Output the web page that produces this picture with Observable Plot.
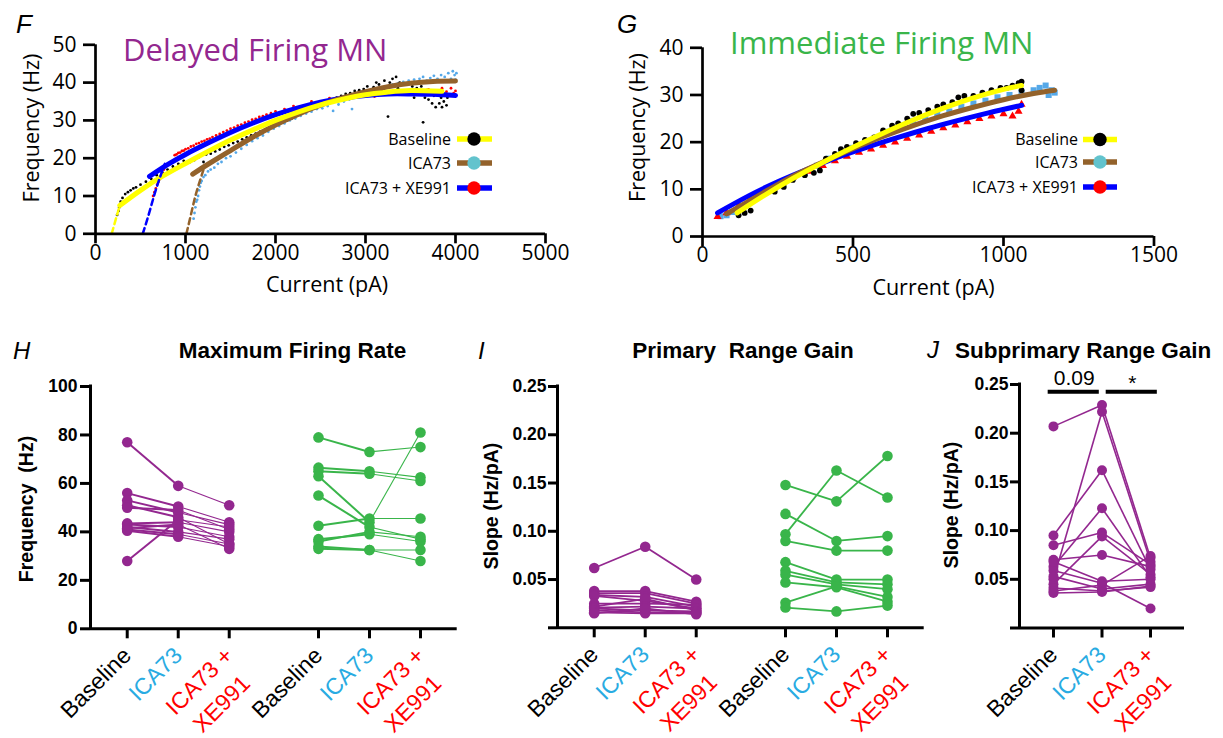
<!DOCTYPE html>
<html><head><meta charset="utf-8">
<script src="https://cdn.jsdelivr.net/npm/d3@7"></script>
<script src="https://cdn.jsdelivr.net/npm/@observablehq/plot@0.6"></script>
<style>
html,body{margin:0;padding:0;background:#fff;}
#fig{position:relative;width:1223px;height:738px;overflow:hidden;background:#fff;}
#fig svg{position:absolute;max-width:none;overflow:visible;}
</style></head><body><div id="fig"></div>
<script>
// ---------------- DATA ----------------
const conditions = ["Baseline", "ICA73", "ICA73 + XE991"];
const labelLine1 = ["Baseline", "ICA73", "ICA73 +"];
const labelLine2 = ["", "", "XE991"];
const conditionColors = ["#000000", "#29ABE2", "#FF0000"];
const groupNames = ["Delayed Firing MN", "Immediate Firing MN"];
const groupColors = ["#93278F", "#39B54A"];
const fitColors = ["#FFFF00", "#93622B", "#0000FF"];
const pointColors = ["#000000", "#55A8E8", "#FF0000"];
const legendDotColors = ["#000000", "#62C3CD", "#FF0000"];

// Panel F (Delayed firing MN) – [current pA, frequency Hz]
const fBaselinePts = [[240,5],[255,6],[265,7],[280,8.5],[300,9.5],[330,10.5],[360,11],[390,11.5],[420,12],[450,12.3],[500,13],[560,13.8],[620,14.5],[680,15.5],[740,16.3],[800,17],[860,17.8],[920,18.5],[980,19.3],[1050,19],[1100,19.5],[1150,20.3],[1200,19],[1230,21],[1280,21.2],[1330,21.8],[1380,22.3],[1430,23],[1480,23.4],[1530,24],[1580,24.4],[1630,25],[1680,25.5],[1730,26],[1780,26.5],[1830,27],[1880,27.3],[1930,28],[1980,28.5],[2030,29],[2080,29.5],[2130,30],[2180,30.5],[2230,31.2],[2280,31.8],[2330,32.3],[2380,33],[2430,33.5],[2480,34],[2530,34.5],[2580,35],[2630,35.5],[2680,36],[2730,36.5],[2780,37],[2830,37.2],[2880,37.8],[2930,38],[2980,38.3],[3020,39],[3060,37],[3090,38.8],[3120,40],[3150,39.5],[3180,38],[3210,40.5],[3240,39],[3250,31],[3270,40],[3300,41],[3320,39],[3340,41.5],[3360,38.5],[3380,40],[3410,39.5],[3430,37],[3460,39.8],[3490,38],[3520,39],[3540,36],[3570,38.5],[3600,37],[3620,39],[3640,29.5],[3660,36],[3680,38],[3700,35.5],[3720,37],[3740,34.5],[3760,36.5],[3780,33.5],[3800,37.5],[3820,34.5],[3840,36],[3850,33.5],[3870,35],[3880,37],[3900,34],[3910,36]];
const fIcaPts = [[1090,4],[1100,5.5],[1110,7],[1120,8.5],[1130,9],[1140,10],[1150,11.5],[1160,12.5],[1170,13.5],[1180,14],[1200,15],[1220,15.5],[1250,16.5],[1280,17],[1320,17.5],[1360,18.5],[1400,19],[1450,20],[1500,20.5],[1560,21.5],[1620,22.5],[1680,23.5],[1740,24.5],[1800,25.3],[1860,26],[1920,27],[1980,27.8],[2040,28.5],[2100,29.2],[2160,30],[2220,30.5],[2280,31.2],[2340,31.8],[2400,32.3],[2460,33],[2520,33.2],[2580,33.8],[2640,32.5],[2700,34.2],[2760,35],[2820,35.5],[2850,33],[2880,36],[2940,36.5],[3000,37.2],[3060,37.8],[3120,38.2],[3180,38.7],[3240,39],[3300,39.5],[3360,39.8],[3420,40.2],[3480,40.5],[3540,40.8],[3600,41],[3640,41.5],[3680,40.5],[3720,41.2],[3760,41.8],[3800,41],[3840,42],[3880,41.5],[3920,42.5],[3950,41],[3970,43],[3990,42],[4000,40.8],[4010,42.5]];
const fXePts = [[640,10],[655,11],[670,12],[685,13],[700,13.8],[715,14.5],[730,15.3],[745,16],[760,17],[880,20.8],[900,21],[920,21.4],[940,21.5],[960,21.9],[980,22],[1000,22.4],[1030,22.6],[1060,23.1],[1090,23.3],[1120,23.8],[1150,24],[1180,24.4],[1210,24.6],[1240,25],[1270,25.2],[1300,25.6],[1340,26],[1380,26.4],[1420,26.9],[1460,27.3],[1500,27.8],[1540,28.1],[1580,28.6],[1620,28.9],[1660,29.4],[1700,29.7],[1740,30.2],[1780,30.4],[1820,30.9],[1860,31.1],[1900,31.5],[1950,31.9],[2000,32.4],[2100,33],[2200,33.8],[2400,35],[2600,35.9],[2800,36.6],[3000,37],[3100,36.3],[3200,37.5],[3400,37.8],[3600,37.6],[3700,38.2],[3800,37.8],[3850,38.5],[3900,37.6],[3950,38.5],[3980,37.2],[4000,37.8]];
const fBaselineFit = [[270,7.5],[500,11.5],[750,15.3],[1000,18.6],[1250,21.8],[1500,24.8],[1750,27.5],[2000,30],[2250,32.2],[2500,34.1],[2750,35.6],[3000,36.8],[3250,37.5],[3500,37.9],[3850,37.7]];
const fBaselineSub = [[180,0],[225,3.8],[270,7.5]];
const fIcaFit = [[1080,15.8],[1250,18.4],[1500,22],[1750,25.6],[2000,28.8],[2250,31.6],[2500,34],[2750,36],[3000,37.6],[3250,38.9],[3500,39.8],[3750,40.3],[4000,40.4]];
const fIcaSub = [[1010,0],[1060,5],[1110,10],[1160,14],[1200,17]];
const fXeFit = [[600,15.2],[800,18.3],[1000,21],[1250,24],[1500,26.8],[1750,29.3],[2000,31.5],[2250,33.3],[2500,34.8],[2750,35.9],[3000,36.6],[3250,37],[3500,37],[3750,36.9],[4000,36.6]];
const fXeSub = [[525,0],[590,5],[650,10],[710,14.5],[770,18.5]];
const fXTicks = [0, 1000, 2000, 3000, 4000, 5000];
const fYTicks = [0, 10, 20, 30, 40, 50];

// Panel G (Immediate firing MN)
const gBaselinePts = [[120,4.5],[140,5],[160,5.5],[240,9.5],[270,10.5],[300,12],[340,13],[370,13.5],[390,14],[410,16.5],[440,17.5],[460,18.5],[480,19],[510,19.8],[540,20.5],[570,21],[600,22.5],[630,23.5],[650,24],[680,25],[700,26],[720,26.2],[750,26.8],[780,27.5],[800,28],[830,28.5],[850,29.5],[870,29.8],[900,29.8],[930,30.5],[960,31],[990,31.5],[1010,31.5],[1030,32],[1050,32.5],[1060,32.8],[1060,31]];
const gIcaPts = [[60,4.3],[80,4.5],[100,5.2],[130,6.5],[160,7.5],[190,9],[210,9.8],[240,10.5],[270,11.5],[300,12.5],[340,13.5],[380,15],[420,16.5],[460,17.8],[500,18.8],[540,20],[580,21],[620,22.2],[660,23.5],[700,24.5],[740,25],[780,25.8],[820,26.5],[860,27.5],[900,28.2],[940,28.8],[980,29.5],[1020,30],[1060,30.5],[1100,31],[1120,31.5],[1140,32],[1150,30],[1160,31],[1170,30.5]];
const gXePts = [[50,4.2],[80,5],[120,6.5],[160,8],[200,9.3],[250,11],[300,12.5],[350,13.8],[400,15],[440,16],[480,17],[520,17.8],[560,18.5],[600,19.3],[640,20],[680,20.8],[720,21.5],[760,22.3],[800,23],[840,23.6],[880,24.3],[920,25],[960,25.5],[1000,26],[1030,25.5],[1050,26.5],[1060,28]];
const gBaselineFit = [[115,5],[200,8.5],[300,12.3],[400,15.7],[500,18.9],[600,21.9],[700,24.7],[800,27.2],[900,29.4],[1000,31.2],[1060,32]];
const gIcaFit = [[80,4.8],[200,9.2],[300,12.8],[400,15.8],[500,18.6],[600,21.2],[700,23.5],[800,25.6],[900,27.4],[1000,29],[1100,30.3],[1170,31]];
const gXeFit = [[50,5],[150,8.5],[250,11.6],[350,14.3],[450,16.8],[550,19],[650,21],[750,22.9],[850,24.6],[950,26.2],[1060,27.8]];
const gXTicks = [0, 500, 1000, 1500];
const gYTicks = [0, 10, 20, 30, 40];

// Panel H – maximum firing rate (Hz), rows = cells, columns = conditions
const hDelayed = [[77,59,51],[56,50.5,44],[53,48,43],[51,46,35],[50,49,41],[43.5,44,40],[43,42,38],[42,40,37],[41.5,43,33],[41,39,35],[40.5,38,34],[28,45,42]];
const hImmediate = [[79,73,75],[66.5,65,62.5],[65,64,61],[63,44,81],[55,42,37],[42.5,45.5,45.5],[37,39,36],[36,40,38],[34,32.5,32.5],[33,32.5,28]];
const hYTicks = [0, 20, 40, 60, 80, 100];

// Panel I – primary range gain (Hz/pA)
const iDelayed = [[0.062,0.084,0.050],[0.038,0.038,0.027],[0.036,0.036,0.025],[0.034,0.032,0.022],[0.033,0.028,0.020],[0.025,0.025,0.024],[0.022,0.030,0.018],[0.021,0.022,0.020],[0.020,0.018,0.017],[0.018,0.016,0.016],[0.016,0.015,0.015],[0.015,0.020,0.014]];
const iImmediate = [[0.148,0.131,0.178],[0.097,0.163,0.135],[0.118,0.090,0.095],[0.090,0.080,0.080],[0.068,0.050,0.050],[0.059,0.047,0.045],[0.055,0.045,0.040],[0.047,0.042,0.027],[0.026,0.043,0.032],[0.021,0.017,0.023]];
const slopeTicks = [0, 0.05, 0.10, 0.15, 0.20, 0.25];

// Panel J – subprimary range gain (Hz/pA), delayed firing MN
const jDelayed = [[0.207,0.229,0.072],[0.050,0.222,0.068],[0.095,0.162,0.060],[0.063,0.123,0.052],[0.085,0.098,0.065],[0.045,0.094,0.055],[0.070,0.075,0.063],[0.059,0.046,0.020],[0.053,0.040,0.045],[0.041,0.038,0.042],[0.038,0.044,0.074],[0.036,0.037,0.043],[0.068,0.048,0.050]];
const jSig = [{from: 0, to: 1, label: "0.09"}, {from: 1, to: 2, label: "*"}];
const jSigLevel = 0.2426;

// ---------------- DRAWING ----------------
const fig = document.getElementById("fig");
const OPEN = "'Open Sans', 'Noto Sans', sans-serif";
const ARIAL = "'Liberation Sans', Arial, sans-serif";

function place(svg, left, top) {
  svg.style.left = left + "px"; svg.style.top = top + "px";
  fig.appendChild(svg);
}

function ivPanel(o) {
  const marks = [];
  o.points.forEach(s => marks.push(Plot.dot(s.data, {x: d => d[0], y: d => d[1], r: s.r, symbol: s.symbol, fill: s.color, stroke: "none"})));
  o.fits.forEach(f => marks.push(Plot.line(f.data, {x: d => d[0], y: d => d[1], stroke: f.color, strokeWidth: f.w, strokeDasharray: f.dash, curve: "natural"})));
  marks.push(
    Plot.ruleY([0], {stroke: "#000", strokeWidth: 2.7}),
    Plot.ruleX([0], {stroke: "#000", strokeWidth: 2.7, insetBottom: -1.35}),
    Plot.axisX({ticks: o.xTicks, tickFormat: "d", tickSize: 10, tickPadding: 1, strokeWidth: 2.7, fontSize: 21, label: null}),
    Plot.axisY({ticks: o.yTicks, tickFormat: "d", tickSize: 12, tickPadding: 7, strokeWidth: 2.7, fontSize: 21, label: null})
  );
  return Plot.plot({
    width: o.width, height: o.height,
    marginLeft: o.ml, marginRight: o.mr, marginTop: o.mt, marginBottom: o.mb,
    style: {background: "transparent", fontFamily: OPEN, overflow: "visible", color: "#000"},
    x: {domain: o.xDomain, axis: null},
    y: {domain: o.yDomain, axis: null},
    marks
  });
}

place(ivPanel({
  width: 560, height: 310, ml: 95, mr: 15, mt: 44.3, mb: 76.7,
  xDomain: [0, 5000], yDomain: [0, 50], xTicks: fXTicks, yTicks: fYTicks,
  points: [
    {data: fIcaPts, color: pointColors[1], r: 1.4},
    {data: fXePts, color: pointColors[2], r: 1.4},
    {data: fBaselinePts, color: pointColors[0], r: 1.4}
  ],
  fits: [
    {data: fXeFit, color: fitColors[2], w: 5},
    {data: fIcaFit, color: fitColors[1], w: 5},
    {data: fBaselineFit, color: fitColors[0], w: 5},
    {data: fBaselineSub, color: fitColors[0], w: 2.5, dash: "6,4"},
    {data: fXeSub, color: fitColors[2], w: 2.5, dash: "6,4"},
    {data: fIcaSub, color: fitColors[1], w: 2.5, dash: "6,4"}
  ]
}), 0, 0);

place(ivPanel({
  width: 600, height: 310, ml: 102, mr: 46.5, mt: 47.3, mb: 74,
  xDomain: [0, 1500], yDomain: [0, 40], xTicks: gXTicks, yTicks: gYTicks,
  points: [
    {data: gIcaPts, color: pointColors[1], r: 3.4, symbol: "square"},
    {data: gXePts, color: pointColors[2], r: 3, symbol: "triangle"},
    {data: gBaselinePts, color: pointColors[0], r: 2.9}
  ],
  fits: [
    {data: gXeFit, color: fitColors[2], w: 5},
    {data: gIcaFit, color: fitColors[1], w: 5},
    {data: gBaselineFit, color: fitColors[0], w: 5}
  ]
}), 600, 0);

function pairedPanel(o) {
  const xOf = (g, c) => g * o.gap + c;
  const pts = [], segs = [];
  o.groups.forEach((grp, g) => grp.rows.forEach(row => {
    row.forEach((v, c) => pts.push({x: xOf(g, c), y: v, color: grp.color}));
    for (let c = 0; c < row.length - 1; c++)
      segs.push({x1: xOf(g, c), y1: row[c], x2: xOf(g, c + 1), y2: row[c + 1], color: grp.color, step: c});
  }));
  const gIdx = o.groups.map((_, g) => g);
  const tickXs = [];
  gIdx.forEach(g => conditions.forEach((_, c) => tickXs.push(xOf(g, c))));
  const span = o.gap * (o.groups.length - 1) + 2;
  const marks = [
    Plot.link(segs.filter(s => s.step === 0), {x1: "x1", y1: "y1", x2: "x2", y2: "y2", stroke: "color", strokeWidth: o.w0}),
    Plot.link(segs.filter(s => s.step === 1), {x1: "x1", y1: "y1", x2: "x2", y2: "y2", stroke: "color", strokeWidth: o.w1}),
    Plot.dot(pts, {x: "x", y: "y", r: o.r, fill: "color", stroke: "none"}),
    Plot.ruleY([0], {stroke: "#000", strokeWidth: 3}),
    Plot.ruleX([-o.pad], {stroke: "#000", strokeWidth: 3, insetBottom: -1.5, insetTop: -1.5}),
    Plot.axisY({ticks: o.yTicks, tickFormat: o.yFormat, tickSize: o.tickY, tickPadding: o.padY, strokeWidth: 3, fontSize: 17.5, fontWeight: "bold", fontFamily: ARIAL, label: null}),
    Plot.axisX({ticks: tickXs, tickFormat: () => "", tickSize: 10, strokeWidth: 3, label: null})
  ];
  conditions.forEach((_, c) => {
    marks.push(Plot.text(gIdx, {x: g => xOf(g, c), y: () => 0, text: () => labelLine1[c], fill: conditionColors[c],
      rotate: -45, textAnchor: "end", lineAnchor: "middle", dx: 0, dy: 23, fontSize: 23, fontFamily: ARIAL}));
    if (labelLine2[c]) marks.push(Plot.text(gIdx, {x: g => xOf(g, c), y: () => 0, text: () => labelLine2[c], fill: conditionColors[c],
      rotate: -45, textAnchor: "end", lineAnchor: "middle", dx: 17, dy: 51, fontSize: 23, fontFamily: ARIAL}));
  });
  if (o.extra) marks.push(...o.extra);
  return Plot.plot({
    width: o.width, height: o.height,
    marginLeft: o.ml, marginRight: o.mr, marginTop: o.mt, marginBottom: o.mb,
    style: {background: "transparent", fontFamily: ARIAL, overflow: "visible", color: "#000"},
    color: {type: "identity"},
    x: {domain: [-o.pad, span + o.pad], axis: null},
    y: {domain: o.yDomain, axis: null},
    marks
  });
}

const slopeFmt = d => d === 0 ? "" : d3.format(".2f")(d);

place(pairedPanel({
  width: 480, height: 408, ml: 90, mr: 23.3, mt: 56, mb: 109.7,
  gap: 3.75, pad: 0.72, yDomain: [0, 100], yTicks: hYTicks, yFormat: "d", tickY: 10, padY: 3,
  groups: [{rows: hDelayed, color: groupColors[0]}, {rows: hImmediate, color: groupColors[1]}],
  r: 5.3, w0: 2, w1: 1.1
}), 0, 330);

place(pairedPanel({
  width: 470, height: 408, ml: 87, mr: 16.3, mt: 56, mb: 110.7,
  gap: 3.75, pad: 0.72, yDomain: [0, 0.25], yTicks: slopeTicks, yFormat: slopeFmt, tickY: 9, padY: 2,
  groups: [{rows: iDelayed, color: groupColors[0]}, {rows: iImmediate, color: groupColors[1]}],
  r: 5.3, w0: 1.8, w1: 1.8
}), 470, 330);

place(pairedPanel({
  width: 283, height: 408, ml: 79, mr: 39, mt: 54, mb: 110.5,
  gap: 0, pad: 0.7, yDomain: [0, 0.25], yTicks: slopeTicks, yFormat: slopeFmt, tickY: 9, padY: 2,
  groups: [{rows: jDelayed, color: groupColors[0]}],
  r: 5, w0: 1.6, w1: 1.6,
  extra: [
    Plot.ruleY([jSig[0]], {y: () => jSigLevel, x1: d => d.from, x2: d => d.to, stroke: "#000", strokeWidth: 4, insetLeft: -1.3, insetRight: -1.3, dx: -4}),
    Plot.ruleY([jSig[1]], {y: () => jSigLevel, x1: d => d.from, x2: d => d.to, stroke: "#000", strokeWidth: 4, insetLeft: -1.3, insetRight: -1.3, dx: 5.5}),
    Plot.text([jSig[0]], {x: d => (d.from + d.to) / 2, y: () => jSigLevel, text: "label", dx: -3.5, dy: -13.5, fontSize: 21, fontFamily: ARIAL, fill: "#000"}),
    Plot.text([jSig[1]], {x: d => (d.from + d.to) / 2, y: () => jSigLevel, text: "label", dx: 6, dy: -8, fontSize: 21, fontFamily: ARIAL, fill: "#000"})
  ]
}), 940, 330);

// ---------------- OVERLAY TEXT & LEGENDS ----------------
const ov = d3.select(fig).append("svg").attr("width", 1223).attr("height", 738).style("left", "0px").style("top", "0px");
function txt(s, x, y, o = {}) {
  const t = ov.append("text").attr("x", x).attr("y", y).text(s)
    .attr("font-family", o.family || ARIAL).attr("font-size", o.size)
    .attr("fill", o.fill || "#000").attr("text-anchor", o.anchor || "start")
    .style("white-space", "pre");
  if (o.weight) t.attr("font-weight", o.weight);
  if (o.italic) t.attr("font-style", "italic");
  if (o.rotate) t.attr("transform", `rotate(${o.rotate},${x},${y})`);
  return t;
}
// F & G headers
txt("F", 16, 33, {size: 26, italic: true});
txt(groupNames[0], 123, 61, {size: 31, family: OPEN, fill: groupColors[0]});
txt("G", 617, 33, {size: 26, italic: true});
txt(groupNames[1], 730, 53.5, {size: 31, family: OPEN, fill: groupColors[1]});
txt("Frequency (Hz)", 38.5, 128, {size: 21.5, family: OPEN, anchor: "middle", rotate: -90});
txt("Frequency (Hz)", 645, 127.5, {size: 21.5, family: OPEN, anchor: "middle", rotate: -90});
txt("Current (pA)", 327, 292, {size: 21.5, family: OPEN, anchor: "middle"});
txt("Current (pA)", 933.5, 295, {size: 21.5, family: OPEN, anchor: "middle"});

function legend(textRight, lineX0, lineX1, dotX, ys) {
  conditions.forEach((lab, i) => {
    const y = ys[i];
    txt(lab, textRight, y + 5.5, {size: 16, family: OPEN, anchor: "end"});
    ov.append("line").attr("x1", lineX0).attr("x2", lineX1).attr("y1", y).attr("y2", y)
      .attr("stroke", fitColors[i]).attr("stroke-width", 5.3);
    ov.append("circle").attr("cx", dotX).attr("cy", y).attr("r", 6.7).attr("fill", legendDotColors[i]);
  });
}
legend(451, 457, 492, 474, [139, 163, 188]);
legend(1078, 1083, 1117, 1100, [139.5, 162, 187]);

// H, I, J headers
txt("H", 13, 359, {size: 24, italic: true});
txt("Maximum Firing Rate", 292.5, 358, {size: 22.5, weight: "bold", anchor: "middle"});
txt("Frequency  (Hz)", 33, 509, {size: 19.5, weight: "bold", anchor: "middle", rotate: -90});
txt("I", 478, 359, {size: 24, italic: true});
txt("Primary  Range Gain", 743, 358, {size: 22.5, weight: "bold", anchor: "middle"});
txt("Slope (Hz/pA)", 498, 506, {size: 19.5, weight: "bold", anchor: "middle", rotate: -90});
txt("J", 927, 358, {size: 24, italic: true});
txt("Subprimary Range Gain", 955, 358, {size: 22.5, weight: "bold"});
txt("Slope (Hz/pA)", 958, 505, {size: 19.5, weight: "bold", anchor: "middle", rotate: -90});
</script></body></html>
